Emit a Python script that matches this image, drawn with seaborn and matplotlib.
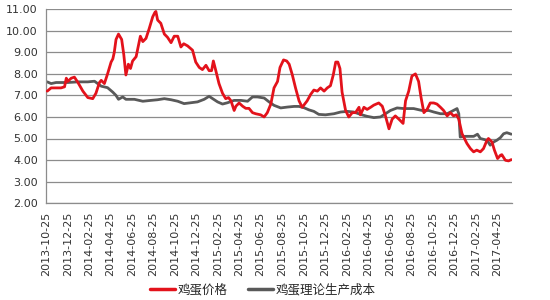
import numpy as np
import pandas as pd
import matplotlib
matplotlib.use("Agg")
import matplotlib.pyplot as plt
import seaborn as sns
from matplotlib.lines import Line2D

start_date = "2013-10-25"

price_days = [3, 14, 28, 42, 52, 57, 61, 71, 80, 90,
              104, 118, 132, 141, 151, 156, 165, 174, 184, 189,
              193, 198, 205, 214, 220, 226, 233, 239, 245, 255,
              267, 274, 283, 292, 302, 308, 311, 316, 325, 335,
              344, 354, 363, 373, 382, 390, 401, 415, 424, 434,
              443, 453, 462, 469, 474, 481, 490, 500, 509, 517,
              524, 533, 538, 547, 557, 566, 575, 585, 594, 608,
              618, 627, 637, 646, 656, 663, 673, 682, 689, 698,
              707, 717, 726, 733, 740, 750, 759, 769, 778, 788,
              797, 806, 814, 821, 827, 833, 839, 849, 858, 868,
              877, 887, 891, 901, 910, 920, 929, 943, 953, 962,
              972, 981, 990, 1000, 1012, 1019, 1028, 1037, 1047, 1056,
              1063, 1071, 1080, 1089, 1099, 1108, 1118, 1127, 1137, 1146,
              1155, 1163, 1170, 1179, 1193, 1203, 1212, 1221, 1231, 1240,
              1250, 1254, 1264, 1271, 1280, 1288, 1292, 1302, 1311, 1319]
price_vals = [7.2, 7.35, 7.35, 7.35, 7.4, 7.8, 7.65, 7.8, 7.85, 7.6,
              7.2, 6.9, 6.85, 7.1, 7.6, 7.7, 7.55, 8.0, 8.55, 8.7,
              9.0, 9.6, 9.85, 9.6, 8.9, 7.95, 8.45, 8.25, 8.6, 8.8,
              9.75, 9.5, 9.65, 10.1, 10.65, 10.85, 10.9, 10.5, 10.35, 9.85,
              9.7, 9.45, 9.75, 9.75, 9.25, 9.4, 9.3, 9.1, 8.55, 8.3,
              8.2, 8.4, 8.15, 8.15, 8.6, 8.15, 7.55, 7.1, 6.85, 6.9,
              6.75, 6.3, 6.5, 6.65, 6.5, 6.4, 6.4, 6.2, 6.15, 6.1,
              6.0, 6.2, 6.6, 7.35, 7.65, 8.3, 8.65, 8.6, 8.45, 7.95,
              7.35, 6.75, 6.45, 6.6, 6.75, 7.05, 7.25, 7.2, 7.35, 7.2,
              7.35, 7.45, 7.95, 8.55, 8.55, 8.25, 7.15, 6.3, 6.0, 6.2,
              6.2, 6.45, 6.1, 6.45, 6.35, 6.45, 6.55, 6.65, 6.5, 6.05,
              5.45, 5.9, 6.05, 5.9, 5.7, 6.75, 7.2, 7.9, 8.0, 7.65,
              6.9, 6.2, 6.35, 6.65, 6.65, 6.6, 6.45, 6.3, 6.05, 6.2,
              6.05, 6.1, 5.9, 5.23, 4.77, 4.53, 4.38, 4.46, 4.38, 4.53,
              4.92, 5.0, 4.84, 4.46, 4.07, 4.22, 4.25, 3.99, 3.96, 4.02]

cost_days = [3, 14, 28, 61, 90, 118, 137, 146, 156, 174,
             189, 198, 205, 217, 226, 250, 274, 297, 316, 335,
             354, 373, 391, 410, 429, 448, 462, 472, 486, 500,
             514, 533, 552, 571, 585, 599, 618, 632, 646, 665,
             684, 703, 717, 731, 745, 759, 773, 792, 816, 835,
             854, 872, 891, 910, 929, 948, 962, 976, 995, 1014,
             1042, 1066, 1085, 1099, 1118, 1137, 1151, 1165, 1170, 1174,
             1188, 1212, 1223, 1231, 1250, 1259, 1269, 1278, 1288, 1297,
             1306, 1319]
cost_vals = [7.63, 7.55, 7.6, 7.6, 7.63, 7.63, 7.66, 7.55, 7.43, 7.36,
             7.15, 7.0, 6.82, 6.93, 6.82, 6.82, 6.73, 6.77, 6.8, 6.85,
             6.8, 6.73, 6.62, 6.66, 6.7, 6.82, 6.96, 6.85, 6.7, 6.6,
             6.66, 6.77, 6.77, 6.73, 6.93, 6.93, 6.88, 6.7, 6.54, 6.42,
             6.46, 6.49, 6.49, 6.43, 6.33, 6.26, 6.12, 6.1, 6.15, 6.23,
             6.26, 6.23, 6.12, 6.03, 5.97, 6.0, 6.15, 6.3, 6.42, 6.39,
             6.39, 6.3, 6.3, 6.23, 6.15, 6.15, 6.27, 6.39, 6.15, 5.07,
             5.1, 5.1, 5.2, 5.0, 4.92, 4.69, 4.84, 4.92, 5.04, 5.22,
             5.27, 5.2]

series_names = ["鸡蛋价格", "鸡蛋理论生产成本"]
series_colors = ["#E3121B", "#595959"]

tick_labels = ["2013-10-25", "2013-12-25", "2014-02-25", "2014-04-25", "2014-06-25",
               "2014-08-25", "2014-10-25", "2014-12-25", "2015-02-25", "2015-04-25",
               "2015-06-25", "2015-08-25", "2015-10-25", "2015-12-25", "2016-02-25",
               "2016-04-25", "2016-06-25", "2016-08-25", "2016-10-25", "2016-12-25",
               "2017-02-25", "2017-04-25"]
y_ticks = [2, 3, 4, 5, 6, 7, 8, 9, 10, 11]

sns.set_style("white")
plt.rcParams["font.family"] = ["Noto Sans CJK SC", "DejaVu Sans"]

t0 = pd.Timestamp(start_date)
df = pd.concat([
    pd.DataFrame({"date": t0 + pd.to_timedelta(price_days, unit="D"),
                  "value": price_vals, "series": series_names[0]}),
    pd.DataFrame({"date": t0 + pd.to_timedelta(cost_days, unit="D"),
                  "value": cost_vals, "series": series_names[1]}),
], ignore_index=True)

fig = plt.figure(figsize=(5.5, 3.0), dpi=100)
ax = fig.add_axes([0.084, 0.323, 0.847, 0.646])

sns.lineplot(data=df, x="date", y="value", hue="series", hue_order=series_names,
             palette=series_colors, linewidth=2.0, ax=ax, legend=False,
             estimator=None, sort=False)
for line, z in zip(ax.get_lines(), [3, 2]):
    line.set_zorder(z)

ax.set_ylim(2, 11)
ax.set_yticks(y_ticks)
ax.set_yticklabels([f"{v:.2f}" for v in y_ticks], fontsize=8, color="#333333",
                   family="DejaVu Sans")
ax.set_xlim(t0, t0 + pd.Timedelta(days=1321))
ax.set_xticks(pd.to_datetime(tick_labels))
ax.set_xticklabels(tick_labels, rotation=90, fontsize=8, color="#333333",
                   family="DejaVu Sans")
ax.set_xlabel("")
ax.set_ylabel("")

ax.grid(axis="y", color="#8C8C8C", linewidth=0.9)
ax.set_axisbelow(True)
for side in ["top", "right"]:
    ax.spines[side].set_visible(False)
for side in ["left", "bottom"]:
    ax.spines[side].set_color("#8C8C8C")
    ax.spines[side].set_linewidth(0.9)
ax.tick_params(axis="x", direction="out", length=4, color="#8C8C8C", width=0.9, pad=2)
ax.tick_params(axis="y", direction="out", length=3, color="#8C8C8C", width=0.9, pad=3)

handles = [Line2D([0], [0], color=c, linewidth=2.5) for c in series_colors]
fig.legend(handles, series_names, loc="center", bbox_to_anchor=(0.478, 0.035),
           ncol=2, frameon=False, fontsize=9, handlelength=2.0,
           handletextpad=0.2, columnspacing=1.6)

fig.savefig("out.png", dpi=100)
